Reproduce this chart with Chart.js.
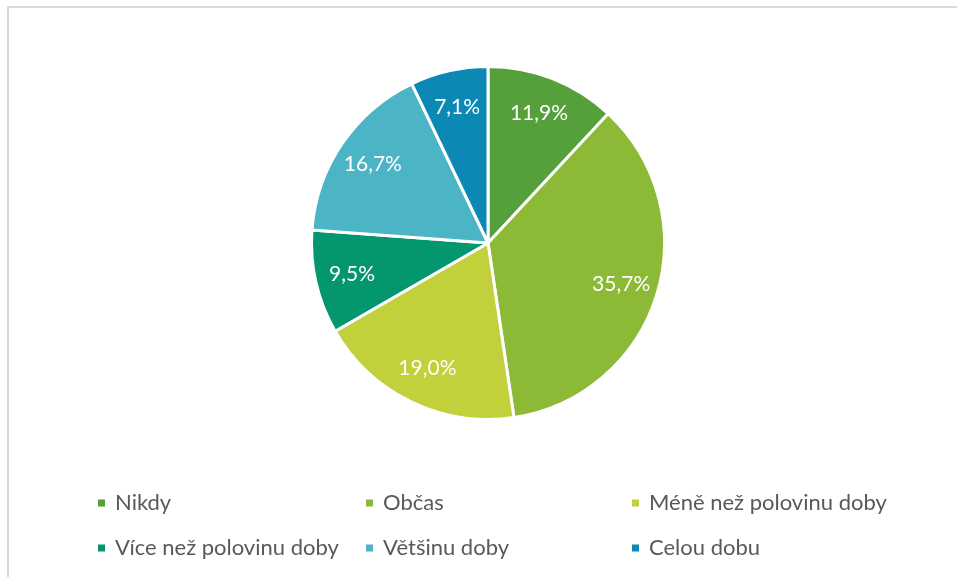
<!DOCTYPE html>
<html lang="cs">
<head>
<meta charset="utf-8">
<title>Četnost</title>
<script src="https://cdn.jsdelivr.net/npm/chart.js@4/dist/chart.umd.min.js"></script>
<style>
  html, body { margin: 0; padding: 0; background: #ffffff; }
  #wrap { position: relative; width: 957px; height: 577px; overflow: hidden; background: #ffffff; }
  #frame { position: absolute; left: 7px; top: 6px; width: 1000px; height: 700px;
           border-left: 2px solid #d9d9d9; border-top: 2px solid #d9d9d9; box-sizing: border-box; }
  #chart { position: absolute; left: 0; top: 0; }
</style>
</head>
<body>
<div id="wrap">
  <div id="frame"></div>
  <canvas id="chart" width="957" height="577"></canvas>
</div>
<script>
// Categories and shares (percent)
const categories = ['Nikdy', 'Občas', 'Méně než polovinu doby', 'Více než polovinu doby', 'Většinu doby', 'Celou dobu'];
const shares = [11.9, 35.7, 19.0, 9.5, 16.7, 7.1];
const sliceColors = ['#56a03b', '#8dba36', '#c1d03b', '#03966f', '#4bb4c5', '#0b89b4'];

const FONT = 'Lato, "Open Sans", sans-serif';

// Percent labels written inside each slice
const sliceLabels = {
  id: 'sliceLabels',
  afterDatasetsDraw(chart) {
    const ctx = chart.ctx;
    const meta = chart.getDatasetMeta(0);
    ctx.save();
    ctx.fillStyle = '#ffffff';
    ctx.font = '21px ' + FONT;
    ctx.textAlign = 'center';
    ctx.textBaseline = 'middle';
    meta.data.forEach((arc, i) => {
      const p = arc.getProps(['x', 'y', 'startAngle', 'endAngle', 'outerRadius'], true);
      const mid = (p.startAngle + p.endAngle) / 2;
      const r = p.outerRadius * 0.79;
      const txt = shares[i].toFixed(1).replace('.', ',') + '%';
      ctx.fillText(txt, p.x + Math.cos(mid) * r, p.y + Math.sin(mid) * r);
    });
    ctx.restore();
  }
};

// Three-column legend below the pie
const gridLegend = {
  id: 'gridLegend',
  afterDraw(chart) {
    const ctx = chart.ctx;
    const cols = [98, 366, 632];
    const rows = [503, 548];
    ctx.save();
    ctx.font = '22px ' + FONT;
    ctx.textBaseline = 'middle';
    ctx.textAlign = 'left';
    chart.data.labels.forEach((label, i) => {
      const x = cols[i % 3];
      const y = rows[Math.floor(i / 3)];
      ctx.fillStyle = chart.data.datasets[0].backgroundColor[i];
      ctx.fillRect(x, y - 3.5, 7, 7);
      ctx.fillStyle = '#595959';
      ctx.fillText(label, x + 17, y);
    });
    ctx.restore();
  }
};

new Chart(document.getElementById('chart'), {
  type: 'pie',
  data: {
    labels: categories,
    datasets: [{
      data: shares,
      backgroundColor: sliceColors,
      borderColor: '#ffffff',
      borderWidth: 3
    }]
  },
  options: {
    responsive: false,
    animation: false,
    layout: { padding: { top: 65, bottom: 156, left: 310, right: 291 } },
    plugins: {
      legend: { display: false },
      tooltip: { enabled: false }
    }
  },
  plugins: [sliceLabels, gridLegend]
});
</script>
</body>
</html>
